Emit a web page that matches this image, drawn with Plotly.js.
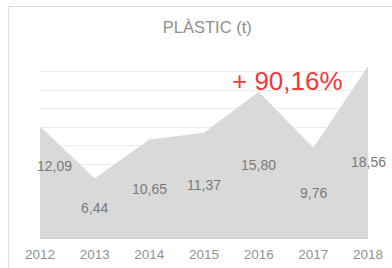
<!DOCTYPE html>
<html><head><meta charset="utf-8">
<script src="https://cdn.plot.ly/plotly-3.0.1.min.js"></script>
<style>
html,body{margin:0;padding:0;background:#fff;overflow:hidden;}
#frame{position:absolute;left:8px;top:6px;width:420px;height:300px;border:1px solid #dcdcdc;}
#chart{position:absolute;left:0;top:0;width:392px;height:268px;}
</style></head>
<body>
<div id="frame"></div>
<div id="chart"></div>
<script>
const years = [2012, 2013, 2014, 2015, 2016, 2017, 2018];
const values = [12.09, 6.44, 10.65, 11.37, 15.80, 9.76, 18.56];
const titleText = 'PLÀSTIC (t)';
const growthText = '+ 90,16%';

const labelShiftX = [14, 0, 0, 0, 0, 0, 0];
const labelShiftY = [16, 0, 0, 0, 0, 0, -10];

const fmt = v => v.toFixed(2).replace('.', ',');

const annotations = years.map((yr, i) => ({
  x: yr, y: values[i] / 2, xref: 'x', yref: 'y',
  text: fmt(values[i]), showarrow: false,
  xshift: labelShiftX[i], yshift: labelShiftY[i],
  font: {family: 'Liberation Sans, Arial, sans-serif', size: 14, color: '#7a7a7a'}
}));
annotations.push({
  x: 2016.53, y: 16.95, xref: 'x', yref: 'y', text: growthText, showarrow: false,
  font: {family: 'Liberation Sans, Arial, sans-serif', size: 26, color: '#f0393b'}
});

const trace = {
  x: years, y: values, type: 'scatter', mode: 'lines',
  fill: 'tozeroy', fillcolor: '#d9d9d9', line: {color: '#d9d9d9', width: 0},
  hoverinfo: 'skip'
};

const layout = {
  width: 392, height: 268,
  margin: {l: 40, r: 24, t: 53, b: 30, pad: 0},
  paper_bgcolor: 'rgba(0,0,0,0)', plot_bgcolor: 'rgba(0,0,0,0)',
  showlegend: false,
  title: {text: titleText, x: 0.51, xref: 'paper', y: 0.9, yref: 'container', yanchor: 'middle',
    font: {family: 'Liberation Sans, Arial, sans-serif', size: 16.5, color: '#8e8e8e'}},
  xaxis: {range: [2012, 2018], showgrid: false, zeroline: false, showline: false,
    tickmode: 'array', tickvals: years, ticktext: years.map(String), ticks: '',
    ticklabelstandoff: 6,
    tickfont: {family: 'Liberation Sans, Arial, sans-serif', size: 13.5, color: '#929292'}},
  yaxis: {range: [0, 20], dtick: 2, showgrid: true, gridcolor: '#ececec', gridwidth: 1,
    zeroline: true, zerolinecolor: '#cfcfcf', showticklabels: false, ticks: '', showline: false},
  annotations: annotations
};

Plotly.newPlot('chart', [trace], layout, {displayModeBar: false, staticPlot: true});
</script>
</body></html>
